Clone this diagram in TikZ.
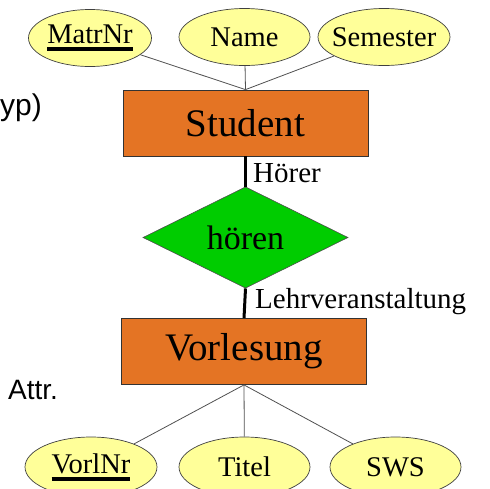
\documentclass[tikz,border=0pt]{standalone}
\usepackage{fontspec}
\setmainfont{Liberation Serif}
\newfontfamily\sansfnt{Liberation Sans}
\usetikzlibrary{shapes.geometric}

\definecolor{entityfill}{RGB}{228,116,36}
\definecolor{relfill}{RGB}{0,204,0}
\definecolor{attrfill}{RGB}{255,255,153}
\definecolor{edgegray}{RGB}{80,80,80}

% key attribute: text with a heavy underline bar
\newcommand\keyattr[1]{\setbox0\hbox{#1}\rlap{\rule[-7.5pt]{\wd0}{4pt}}\box0}
% text that does not widen its ellipse
\newcommand\fixw[1]{\makebox[0pt]{#1}}

\tikzset{
  entity/.style={draw=black!80, line width=0.8pt, fill=entityfill, rectangle,
    inner sep=0pt, minimum width=245pt, minimum height=66pt,
    font=\fontsize{39}{39}\selectfont},
  relation/.style={draw=black!70, line width=0.6pt, fill=relfill, diamond,
    inner sep=0pt, minimum width=205pt, minimum height=73pt,
    font=\fontsize{34}{34}\selectfont},
  attribute/.style={draw=black!75, line width=0.7pt, fill=attrfill, ellipse,
    inner sep=0pt, minimum width=128pt, minimum height=57pt,
    font=\fontsize{28.5}{28.5}\selectfont},
  attrline/.style={draw=edgegray, line width=0.8pt},
  relline/.style={draw=black, line width=3pt},
  rolelabel/.style={anchor=west, inner sep=0pt, font=\fontsize{29}{29}\selectfont},
  sidetext/.style={inner sep=0pt, font=\sansfnt\fontsize{28}{28}\selectfont}
}

\begin{document}
\begin{tikzpicture}[x=1pt, y=-1pt]
\useasboundingbox (0,0) rectangle (490,488);
\clip (0,0) rectangle (490,488);

% side captions
\node[sidetext, anchor=east, font=\sansfnt\fontsize{30}{30}\selectfont] (typ) at (42,108) {yp)};
\node[sidetext, anchor=west] (attr) at (8,390) {Attr.};

% entities and relationship
\node[entity] (stu) at (245.5,123) {Student};
\node[relation] (hoeren) at (245.5,237.5) {hören};
\node[entity] (vorl) at (244,351.5) {Vorlesung};

% attributes of Student
\node[attribute, minimum width=123pt] (matr) at (90,38) {\fixw{\keyattr{MatrNr}}};
\node[attribute, minimum width=131pt] (name) at (244.5,37) {\fixw{Name}};
\node[attribute, minimum width=132pt] (sem) at (384,37) {\fixw{Semester}};

% attributes of Vorlesung
\node[attribute, minimum width=132pt, minimum height=60pt] (vnr) at (91,467) {\fixw{\keyattr{VorlNr}}};
\node[attribute, minimum width=131pt, minimum height=60pt] (titel) at (244.5,467) {\fixw{Titel}};
\node[attribute, minimum width=131pt, minimum height=60pt] (sws) at (395.5,467) {\fixw{SWS}};

% attribute connectors
\draw[attrline] (stu.north) -- (matr);
\draw[attrline] (stu.north) -- (name);
\draw[attrline] (stu.north) -- (sem);
\draw[attrline] (vorl.south) -- (vnr);
\draw[attrline] (vorl.south) -- (titel);
\draw[attrline] (vorl.south) -- (sws);

% relationship connectors
\draw[relline] (stu.south) -- (hoeren.north);
\draw[relline] (hoeren.south) -- (vorl.north);

% role names
\node[rolelabel] (rhoerer) at (253,173) {Hörer};
\node[rolelabel] (rlv) at (255,302) {Lehrveranstaltung};
\end{tikzpicture}
\end{document}
